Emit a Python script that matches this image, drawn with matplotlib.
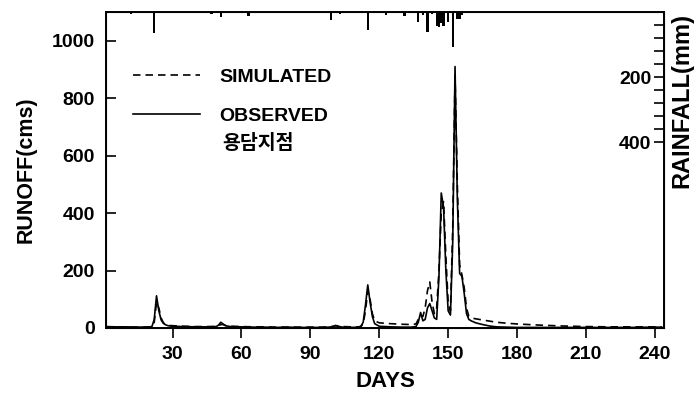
import matplotlib
matplotlib.use("Agg")
import matplotlib.pyplot as plt
from matplotlib.ticker import FixedLocator

plt.rcParams['font.family'] = ['Liberation Sans', 'Noto Sans CJK KR', 'DejaVu Sans']
plt.rcParams['font.weight'] = 'bold'

# daily runoff (cms)
days = [1, 5, 10, 15, 20, 21, 22, 23, 24, 25, 26, 27, 28, 30, 35, 40, 45, 49, 50, 51,
        52, 53, 55, 60, 65, 70, 75, 80, 85, 90, 95, 98, 100, 101, 102, 104, 108, 111, 112, 113,
        114, 115, 116, 117, 118, 120, 125, 130, 134, 136, 137, 138, 139, 140, 141, 142, 143, 144, 145, 146,
        147, 148, 149, 150, 151, 152, 153, 154, 155, 156, 157, 158, 159, 160, 162, 165, 168, 171, 175, 180,
        190, 200, 210, 220, 230, 240, 243]
observed = [5, 4, 4, 3, 4, 5, 30, 112, 60, 28, 16, 11, 8, 6, 5, 4, 4, 5, 10, 20,
            14, 8, 5, 4, 3, 3, 2, 3, 2, 2, 2, 3, 5, 9, 6, 3, 2, 3, 6, 20,
            80, 150, 90, 40, 15, 6, 4, 3, 3, 5, 20, 54, 25, 30, 70, 85, 60, 35, 30, 180,
            470, 420, 200, 60, 45, 300, 910, 450, 190, 180, 120, 50, 30, 25, 18, 12, 7, 4, 3, 2,
            2, 2, 2, 2, 2, 3, 3]
simulated = [4, 4, 3, 3, 3, 4, 20, 90, 70, 35, 18, 12, 9, 8, 6, 5, 5, 5, 8, 12,
             12, 9, 6, 5, 4, 4, 3, 3, 3, 3, 3, 4, 6, 8, 7, 5, 4, 4, 5, 15,
             60, 130, 100, 50, 25, 18, 15, 13, 12, 14, 30, 45, 40, 70, 130, 160, 90, 50, 70, 200,
             400, 440, 250, 90, 60, 350, 880, 500, 220, 185, 140, 70, 40, 35, 32, 28, 24, 20, 17, 14,
             10, 7, 5, 4, 4, 4, 4]

# daily rainfall (mm)
rain_days = [3, 8, 12, 22, 30, 38, 41, 44, 47, 51, 57, 63, 70, 85, 99, 103, 108, 115, 119, 123,
             129, 131, 137, 139, 141, 143, 145, 146, 147, 148, 150, 152, 154, 155, 156, 160, 167, 178, 185, 198,
             205, 213, 225, 232, 238]
rain_mm = [3, 2, 5, 65, 2, 3, 4, 3, 5, 15, 3, 12, 2, 2, 25, 6, 3, 56, 4, 8,
           3, 12, 30, 10, 62, 6, 43, 45, 35, 43, 30, 108, 20, 22, 8, 3, 2, 3, 2, 2,
           2, 3, 2, 2, 3]

xticks = [30, 60, 90, 120, 150, 180, 210, 240]
yticks = [0, 200, 400, 600, 800, 1000]
rain_ticks = [200, 400]
rain_minor = [40, 80, 120, 160, 240, 280, 320, 360]

fig = plt.figure(figsize=(6.94, 4.01), dpi=100)
ax = fig.add_axes([106 / 694, 73 / 401, 558 / 694, 316 / 401])

ax.plot(days, simulated, color='black', lw=1.2, dashes=(4.5, 3), label='SIMULATED')
ax.plot(days, observed, color='black', lw=1.2, label='OBSERVED')

ax.set_xlim(1, 244)
ax.set_ylim(0, 1100)
ax.set_xticks(xticks)
ax.set_yticks(yticks)
ax.tick_params(axis='x', direction='out', length=7, width=1.2, labelsize=14, pad=6)
ax.tick_params(axis='y', direction='in', length=7, width=1.2, labelsize=14, pad=8)
for s in ax.spines.values():
    s.set_linewidth(1.4)
ax.set_xlabel('DAYS', fontsize=16, fontweight='bold', labelpad=6)
ax.set_ylabel('RUNOFF(cms)', fontsize=15.5, fontweight='bold', labelpad=11)

leg = ax.legend(loc='upper left', bbox_to_anchor=(0.048, 0.823), frameon=False,
                fontsize=14, handlelength=3.45, handletextpad=1.0, labelspacing=1.12,
                borderpad=0, borderaxespad=0)
ax.text(0.208, 0.585, '용담지점', transform=ax.transAxes, fontsize=14,
        va='center', ha='left', fontweight='bold')

ax2 = ax.twinx()
ax2.bar(rain_days, rain_mm, width=1.0, color='black')
ax2.set_ylim(970, 0)
ax2.yaxis.set_major_locator(FixedLocator(rain_ticks))
ax2.yaxis.set_minor_locator(FixedLocator(rain_minor))
ax2.tick_params(axis='y', which='both', direction='in', length=7, width=1.2,
                labelsize=14, pad=-9)
for lab in ax2.get_yticklabels():
    lab.set_ha('right')
ax2.set_ylabel('RAINFALL(mm)', fontsize=17, fontweight='bold')
ax2.yaxis.set_label_coords(1.012, 0.72)

fig.savefig('out.png', dpi=100)
